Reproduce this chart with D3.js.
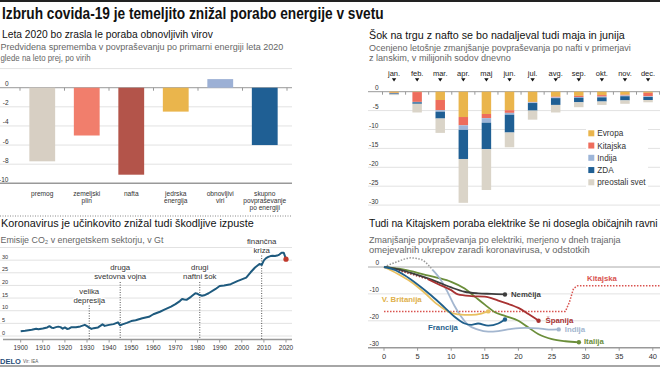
<!DOCTYPE html>
<html>
<head>
<meta charset="utf-8">
<script src="https://cdn.jsdelivr.net/npm/d3@7"></script>
<style>
  body { margin: 0; background: #fff; }
  svg { display: block; }
  text { font-family: "Liberation Sans", Arial, sans-serif; }
</style>
</head>
<body>
<svg id="chart" width="660" height="367"></svg>
<script>
// ---- DATA ----
// panel 1: predvidena sprememba povprasevanja po virih (%)
const sources = ["premog", "zemeljski plin", "nafta", "jedrska energija", "obnovljivi viri", "skupno povpraševanje po energiji"];
const sourceLines = [["premog"], ["zemeljski", "plin"], ["nafta"], ["jedrska", "energija"], ["obnovljivi", "viri"], ["skupno", "povpraševanje", "po energiji"]];
const sourceChange = [-7.7, -5.0, -9.1, -2.5, 0.9, -6.0];
const ticks1 = [0, -2, -4, -6, -8, -10];

// panel 2: zmanjsanje povprasevanja po nafti (mio sodov/dan)
const months = ["jan.", "feb.", "mar.", "apr.", "maj", "jun.", "jul.", "avg.", "sep.", "okt.", "nov.", "dec."];
const regions = ["Evropa", "Kitajska", "Indija", "ZDA", "preostali svet"];
const evropa   = [-0.3, -0.1, -2.2, -6.7, -5.9, -4.9, -2.7, -1.3, -1.1, -0.9, -0.8, -0.3];
const kitajska = [-0.1, -2.6, -2.7, -2.2, -1.1, -0.7, -0.1, -0.2, -0.3, -0.4, -0.2, -0.9];
const indija   = [-0.05, -0.1, -0.4, -1.2, -1.2, -0.5, -0.2, -0.2, -0.2, -0.2, -0.2, -0.2];
const zda      = [-0.25, -0.4, -1.8, -7.7, -7.0, -4.7, -2.0, -1.8, -1.2, -1.1, -1.1, -0.8];
const ostali   = [-0.2, -2.3, -3.8, -11.6, -10.8, -3.9, -2.4, -2.0, -1.3, -0.9, -0.9, -0.6];
const ticks2 = [0, -5, -10, -15, -20, -25, -30];

// panel 3: emisije CO2 (Gt)
const co2Years = [1900, 1902, 1905, 1907, 1908, 1910, 1912, 1913, 1914, 1915, 1916, 1917, 1918, 1919, 1920, 1921, 1922, 1923, 1925, 1927, 1929, 1930, 1931, 1932, 1933, 1935, 1937, 1938, 1940, 1942, 1944, 1945, 1946, 1948, 1950, 1952, 1955, 1958, 1960, 1963, 1965, 1968, 1970, 1972, 1973, 1974, 1975, 1977, 1979, 1980, 1981, 1982, 1983, 1985, 1988, 1990, 1992, 1995, 1998, 2000, 2002, 2004, 2006, 2008, 2009, 2010, 2011, 2012, 2013, 2014, 2015, 2016, 2017, 2018, 2019, 2020];
const co2Values = [1.9, 2.1, 2.5, 2.9, 2.7, 3.0, 3.4, 3.9, 3.3, 3.2, 3.5, 3.7, 3.5, 2.9, 3.4, 2.8, 3.0, 3.5, 3.5, 3.8, 4.4, 3.9, 3.3, 2.8, 3.1, 3.4, 4.6, 4.0, 4.4, 4.7, 5.4, 4.2, 4.6, 5.2, 5.9, 6.2, 7.0, 7.6, 8.6, 9.6, 10.4, 11.6, 12.6, 13.8, 14.6, 14.4, 14.3, 15.5, 16.9, 16.7, 16.2, 15.9, 16.1, 16.9, 18.5, 19.8, 20.0, 20.5, 21.7, 22.4, 23.1, 25.2, 27.1, 28.5, 28.1, 29.9, 30.8, 31.3, 31.6, 31.7, 31.6, 31.8, 32.2, 32.9, 32.9, 30.4];
const eventYears = [1931, 1945, 1981, 2009];
const eventLabels = [["velika", "depresija"], ["druga", "svetovna vojna"], ["drugi", "naftni šok"], ["finančna", "kriza"]];
const yearTicks = [1900, 1910, 1920, 1930, 1940, 1950, 1960, 1970, 1980, 1990, 2000, 2010, 2020];
const ticks3 = [0, 5, 10, 15, 20, 25, 30];

// panel 4: zmanjsanje povprasevanja po elektriki (%), po dnevih
const nemcija = [[0, 0], [2, -0.8], [4, -2.2], [6, -3.8], [8, -5.6], [10, -7.6], [12, -9.2], [14, -9.8], [16, -10], [18, -10.2]];
const spanijaPre = [[0, 0], [2, -1.2], [4, -2.6], [6.5, -4.5]];
const spanija = [[6.5, -4.5], [8, -6.3], [10, -8.6], [11, -10.2], [13, -10.8], [15, -11], [17, -12.5], [19, -14.2], [20, -15.2], [21.5, -17.5], [23, -20]];
const francija = [[0, 0], [1.5, -1], [3, -3], [5, -6.5], [7, -10.5], [9, -15], [10.5, -18.5], [12, -21], [13, -21.5], [14, -21], [15.5, -21.8], [17, -21], [18, -19.5]];
const britanija = [[0, 0], [2, -2.5], [4, -5.5], [6, -9.5], [8, -14], [9.5, -16.5], [11, -17.6], [13, -17.8], [14.5, -17.3], [15.5, -16.5]];
const italija = [[0, 0], [3, -1], [6, -2.8], [8, -4], [10, -5.5], [12, -8], [13.5, -11], [15, -14], [16.5, -16.8], [18, -18.2], [20, -20], [21.5, -22.5], [23, -25], [25, -26.8], [27, -27.6], [29, -28]];
const indijaPre = [[0, 0], [2, 2], [4, 3.4], [5.5, 2.8], [6.5, 1], [7.2, -1]];
const indijaEl = [[7.2, -1], [8.5, -5], [9.5, -9.5], [10.5, -14.5], [11.5, -18.5], [12.5, -21.5], [14, -23.3], [15.5, -24], [17, -23.8], [19, -23], [21, -22.6], [23, -22.8], [24.5, -23.3], [26, -23.2]];
const kitajskaEl = [[0, -16.5], [27, -16.5], [27.6, -13], [28.2, -8], [28.8, -7], [41, -7]];
const dayTicks = [0, 5, 10, 15, 20, 25, 30, 35, 40];
const ticks4 = [0, -10, -20, -30];

// ---- CHART ----
const W = 660;
const svg = d3.select("#chart");
const TITLE_FONT = "'Open Sans', sans-serif";

// text helper; with o.width the text is squeezed to that width by a transform
function label(g, x, y, s, o = {}) {
    const t = g.append("text")
        .attr("font-size", o.size || 10)
        .attr("font-weight", o.weight || 400)
        .attr("fill", o.fill || "#222")
        .attr("text-anchor", o.anchor || "start")
        .text(s);
    if (o.family) t.attr("font-family", o.family);
    if (o.width) {
        const len = t.node().getComputedTextLength();
        t.attr("transform", `translate(${x},${y}) scale(${o.width / len},1)`);
    } else {
        t.attr("x", x).attr("y", y);
    }
    return t;
}

// top rule and bottom rule
svg.append("rect").attr("x", 0).attr("y", 0).attr("width", W).attr("height", 2).attr("fill", "#222");
svg.append("line").attr("x1", 0).attr("x2", W).attr("y1", 366).attr("y2", 366).attr("stroke", "#888").attr("stroke-width", 1.5);

// titles
label(svg, 2, 19, "Izbruh covida-19 je temeljito znižal porabo energije v svetu", {size: 16, weight: 700, fill: "#111", width: 382, family: TITLE_FONT});

label(svg, 2, 37.5, "Leta 2020 bo zrasla le poraba obnovljivih virov", {size: 11, fill: "#111", width: 211, family: TITLE_FONT});
label(svg, 0.5, 50, "Predvidena sprememba v povpraševanju po primarni energiji leta 2020", {size: 9.3, fill: "#666", width: 283});
label(svg, 0.5, 61.2, "glede na leto prej, po virih", {size: 9.3, fill: "#666", width: 90});

label(svg, 369, 38.5, "Šok na trgu z nafto se bo nadaljeval tudi maja in junija", {size: 11, fill: "#111", width: 256, family: TITLE_FONT});
label(svg, 369, 51, "Ocenjeno letošnje zmanjšanje povpraševanja po nafti v primerjavi", {size: 9, fill: "#666", width: 262});
label(svg, 369, 61.2, "z lanskim, v milijonih sodov dnevno", {size: 9, fill: "#666", width: 142});

label(svg, 1, 226.5, "Koronavirus je učinkovito znižal tudi škodljive izpuste", {size: 11, fill: "#111", width: 253, family: TITLE_FONT});
label(svg, 0.5, 242.5, "Emisije CO₂ v energetskem sektorju, v Gt", {size: 9.3, fill: "#666", width: 163});

label(svg, 369, 226.5, "Tudi na Kitajskem poraba elektrike še ni dosegla običajnih ravni", {size: 11, fill: "#111", width: 289, family: TITLE_FONT});
label(svg, 369, 242.5, "Zmanjšanje povpraševanja po elektriki, merjeno v dneh trajanja", {size: 8.8, fill: "#666", width: 252});
label(svg, 369, 252.6, "omejevalnih ukrepov zaradi koronavirusa, v odstotkih", {size: 8.8, fill: "#666", width: 221});

// ===== PANEL 1 =====
const sourceColors = ["#d7cfc3", "#f17e6c", "#b3544a", "#eab54c", "#9cb0d5", "#1f5f94"];
const x1 = d3.scaleBand().domain(sources).range([20, 287]).paddingInner(0.42).paddingOuter(0.21);
const y1 = d3.scaleLinear().domain([-10, 2]).range([183.3, 68.6]);

const p1 = svg.append("g");
p1.selectAll("line.grid")
    .data(d3.range(-10, 3, 2))
    .join("line")
    .attr("x1", 0).attr("x2", 292)
    .attr("y1", d => y1(d)).attr("y2", d => y1(d))
    .attr("stroke", d => (d === 0 || d === -10) ? "#999" : "#e2e2e2")
    .attr("stroke-width", d => d === -10 ? 1.4 : 1);

p1.selectAll("line.tick")
    .data(d3.range(7))
    .join("line")
    .attr("x1", i => 20 + i * x1.step()).attr("x2", i => 20 + i * x1.step())
    .attr("y1", y1(0)).attr("y2", y1(0) + 3)
    .attr("stroke", "#999");

p1.selectAll("text.yt")
    .data(ticks1)
    .join("text")
    .attr("x", 8.5)
    .attr("y", d => y1(d) - 1.5)
    .attr("text-anchor", "end")
    .attr("font-size", 6.5)
    .attr("fill", "#333")
    .text(d => String(d));

p1.selectAll("rect")
    .data(sources)
    .join("rect")
    .attr("x", d => x1(d))
    .attr("width", x1.bandwidth())
    .attr("y", (d, i) => y1(Math.max(0, sourceChange[i])))
    .attr("height", (d, i) => Math.abs(y1(sourceChange[i]) - y1(0)))
    .attr("fill", (d, i) => sourceColors[i]);

sources.forEach((s, i) => {
    sourceLines[i].forEach((ln, j) => {
        label(p1, x1(s) + x1.bandwidth() / 2, 195.5 + j * 7.45, ln, {size: 6.6, fill: "#333", anchor: "middle"});
    });
});

svg.append("line")
    .attr("x1", 0).attr("x2", 292).attr("y1", 216).attr("y2", 216)
    .attr("stroke", "#888").attr("stroke-dasharray", "1,1.5");

// ===== PANEL 2 =====
const regionColors = ["#eab54c", "#ee6d5c", "#9db5d8", "#1f5f94", "#dad4c8"];
const x2 = d3.scaleBand().domain(months).range([382.5, 659.6]).paddingInner(0.59).paddingOuter(0.295);
const y2 = d3.scaleLinear().domain([-30, 0]).range([205.1, 91.7]);

const p2 = svg.append("g");
p2.selectAll("line.grid")
    .data(ticks2)
    .join("line")
    .attr("x1", 368).attr("x2", 660)
    .attr("y1", d => y2(d)).attr("y2", d => y2(d))
    .attr("stroke", d => d === 0 ? "#999" : "#e2e2e2");

p2.selectAll("line.tick")
    .data(d3.range(13))
    .join("line")
    .attr("x1", i => 382.5 + i * x2.step()).attr("x2", i => 382.5 + i * x2.step())
    .attr("y1", y2(0)).attr("y2", y2(0) + 3)
    .attr("stroke", "#999");

p2.selectAll("text.yt")
    .data(ticks2)
    .join("text")
    .attr("x", 378.5)
    .attr("y", d => y2(d) - 1.5)
    .attr("text-anchor", "end")
    .attr("font-size", 6.5)
    .attr("fill", "#333")
    .text(d => String(d));

// month header
months.forEach(m => {
    const cx = x2(m) + x2.bandwidth() / 2;
    label(p2, cx, 75.5, m, {size: 7.5, fill: "#222", anchor: "middle"});
    p2.append("path")
        .attr("d", `M${cx - 2.2},78.3 L${cx + 2.2},78.3 L${cx},81.6 Z`)
        .attr("fill", "#111");
});

const regionValues = [evropa, kitajska, indija, zda, ostali];
const stackRows = months.map((m, i) => {
    const row = {month: m};
    regions.forEach((r, k) => { row[r] = regionValues[k][i]; });
    return row;
});
const series = d3.stack().keys(regions).offset(d3.stackOffsetDiverging)(stackRows);

p2.append("g")
    .selectAll("g")
    .data(series)
    .join("g")
    .attr("fill", (d, k) => regionColors[k])
    .selectAll("rect")
    .data(d => d)
    .join("rect")
    .attr("x", d => x2(d.data.month))
    .attr("width", x2.bandwidth())
    .attr("y", d => y2(Math.max(d[0], d[1])))
    .attr("height", d => Math.abs(y2(d[0]) - y2(d[1])));

// legend
const lg = p2.append("g");
lg.append("rect").attr("x", 586).attr("y", 126).attr("width", 62).attr("height", 63).attr("fill", "#fff");
regions.forEach((r, k) => {
    const cy = 133.3 + k * 12.25;
    lg.append("rect").attr("x", 588.3).attr("y", cy - 3).attr("width", 6).attr("height", 6).attr("fill", regionColors[k]);
    label(lg, 597.3, cy + 3, r, {size: 8.2, fill: "#333"});
});

// ===== PANEL 3 =====
const x3 = d3.scaleLinear().domain([1900, 2020]).range([20.7, 286]);
const y3 = d3.scaleLinear().domain([0, 35]).range([336, 247.5]);

const p3 = svg.append("g");
p3.selectAll("line.grid")
    .data(d3.range(0, 36, 5))
    .join("line")
    .attr("x1", 0).attr("x2", 292)
    .attr("y1", d => y3(d)).attr("y2", d => y3(d))
    .attr("stroke", "#e2e2e2");

p3.selectAll("text.yt")
    .data(ticks3)
    .join("text")
    .attr("x", 2)
    .attr("y", d => y3(d) - 1.5)
    .attr("font-size", 5.5)
    .attr("fill", "#333")
    .text(d => String(d));

p3.append("line")
    .attr("x1", 3).attr("x2", 292).attr("y1", 339.5).attr("y2", 339.5)
    .attr("stroke", "#999").attr("stroke-width", 1.5);

p3.selectAll("line.tick")
    .data(yearTicks)
    .join("line")
    .attr("x1", d => x3(d)).attr("x2", d => x3(d))
    .attr("y1", 339.5).attr("y2", 342.5)
    .attr("stroke", "#999");

p3.selectAll("text.xt")
    .data(yearTicks)
    .join("text")
    .attr("x", d => x3(d))
    .attr("y", 349.5)
    .attr("text-anchor", "middle")
    .attr("font-size", 6.5)
    .attr("fill", "#333")
    .text(d => d);

// event markers
const eventTop = [293.5, 270, 270, 243.5];
eventYears.forEach((yr, i) => {
    const lines = eventLabels[i];
    p3.append("line")
        .attr("x1", x3(yr)).attr("x2", x3(yr))
        .attr("y1", eventTop[i] + lines.length * 9 - 6).attr("y2", 339.5)
        .attr("stroke", "#555").attr("stroke-dasharray", "1,1.5");
    lines.forEach((ln, j) => {
        label(p3, x3(yr), eventTop[i] + j * 9, ln, {size: 7.8, fill: "#333", anchor: "middle"})
            .attr("stroke", "#fff").attr("stroke-width", 3).attr("paint-order", "stroke");
    });
});

const co2 = co2Years.map((yr, i) => [yr, co2Values[i]]);
p3.append("path")
    .datum(co2)
    .attr("d", d3.line().x(d => x3(d[0])).y(d => y3(d[1])))
    .attr("fill", "none")
    .attr("stroke", "#1e5a7e")
    .attr("stroke-width", 2)
    .attr("stroke-linejoin", "round");

p3.append("circle")
    .attr("cx", x3(co2Years[co2Years.length - 1]))
    .attr("cy", y3(co2Values[co2Values.length - 1]))
    .attr("r", 2.6)
    .attr("fill", "#c0392b");

// footer
label(svg, 0, 363.5, "DELO", {size: 7.5, weight: 700, fill: "#1f4e79", family: "'DejaVu Serif', serif"});
label(svg, 23, 363, "Vir: IEA", {size: 4.5, fill: "#555"});

// ===== PANEL 4 =====
const x4 = d3.scaleLinear().domain([0, 40]).range([384, 652.8]);
const y4 = d3.scaleLinear().domain([-30, 0]).range([347.7, 267]);

const p4 = svg.append("g");
p4.selectAll("line.grid")
    .data(ticks4)
    .join("line")
    .attr("x1", 368).attr("x2", 660)
    .attr("y1", d => y4(d)).attr("y2", d => y4(d))
    .attr("stroke", d => d === 0 ? "#aaa" : d === -30 ? "#999" : "#e2e2e2")
    .attr("stroke-width", d => d === -30 ? 1.5 : 1);

p4.selectAll("line.tick")
    .data(dayTicks)
    .join("line")
    .attr("x1", d => x4(d)).attr("x2", d => x4(d))
    .attr("y1", y4(-30)).attr("y2", y4(-30) + 3)
    .attr("stroke", "#999");

p4.selectAll("text.xt")
    .data(dayTicks)
    .join("text")
    .attr("x", d => x4(d))
    .attr("y", 358.5)
    .attr("text-anchor", "middle")
    .attr("font-size", 7.5)
    .attr("fill", "#333")
    .text(d => d);

p4.selectAll("text.yt")
    .data(ticks4)
    .join("text")
    .attr("x", 379)
    .attr("y", d => y4(d) - 2)
    .attr("text-anchor", "end")
    .attr("font-size", 6.5)
    .attr("fill", "#333")
    .text(d => String(d));

const line4 = d3.line().x(d => x4(d[0])).y(d => y4(d[1])).curve(d3.curveMonotoneX);
const lineStraight = d3.line().x(d => x4(d[0])).y(d => y4(d[1]));

function drawLine(data, color, dashed, gen) {
    p4.append("path")
        .datum(data)
        .attr("d", gen || line4)
        .attr("fill", "none")
        .attr("stroke", color)
        .attr("stroke-width", dashed ? 1.5 : 1.8)
        .attr("stroke-dasharray", dashed ? "1.5,1.5" : null)
        .attr("stroke-linejoin", "round");
}

drawLine(kitajskaEl, "#d9534f", true, lineStraight);
drawLine(indijaPre, "#999", true);
drawLine(spanijaPre, "#a83232", true);
drawLine(italija, "#6b8e3a");
drawLine(indijaEl, "#a3b6cf");
drawLine(nemcija, "#3d3d3d");
drawLine(spanija, "#a83232");
drawLine(britanija, "#e8c060");
drawLine(francija, "#1f5f8b");

const ends = [[nemcija, "#3d3d3d"], [spanija, "#a83232"], [indijaEl, "#a3b6cf"], [italija, "#6b8e3a"], [francija, "#1f5f8b"], [britanija, "#e8c060"]];
ends.forEach(([data, color]) => {
    const last = data[data.length - 1];
    p4.append("circle").attr("cx", x4(last[0])).attr("cy", y4(last[1])).attr("r", 2.2).attr("fill", color);
});

label(p4, x4(18) + 6, 296.5, "Nemčija", {size: 7.8, weight: 700, fill: "#3d3d3d"});
label(p4, x4(23) + 7, 323, "Španija", {size: 7.8, weight: 700, fill: "#a83232"});
label(p4, x4(26) + 6, 331.5, "Indija", {size: 7.8, weight: 700, fill: "#a3b6cf"});
label(p4, x4(29) + 5, 344, "Italija", {size: 7.8, weight: 700, fill: "#6b8e3a"});
label(p4, 428, 329.5, "Francija", {size: 7.8, weight: 700, fill: "#1f5f8b"});
label(p4, 381.7, 301.5, "V. Britanija", {size: 7.8, weight: 700, fill: "#e0b04a"});
label(p4, 587, 281, "Kitajska", {size: 7.8, weight: 700, fill: "#d9534f"});
</script>
</body>
</html>
